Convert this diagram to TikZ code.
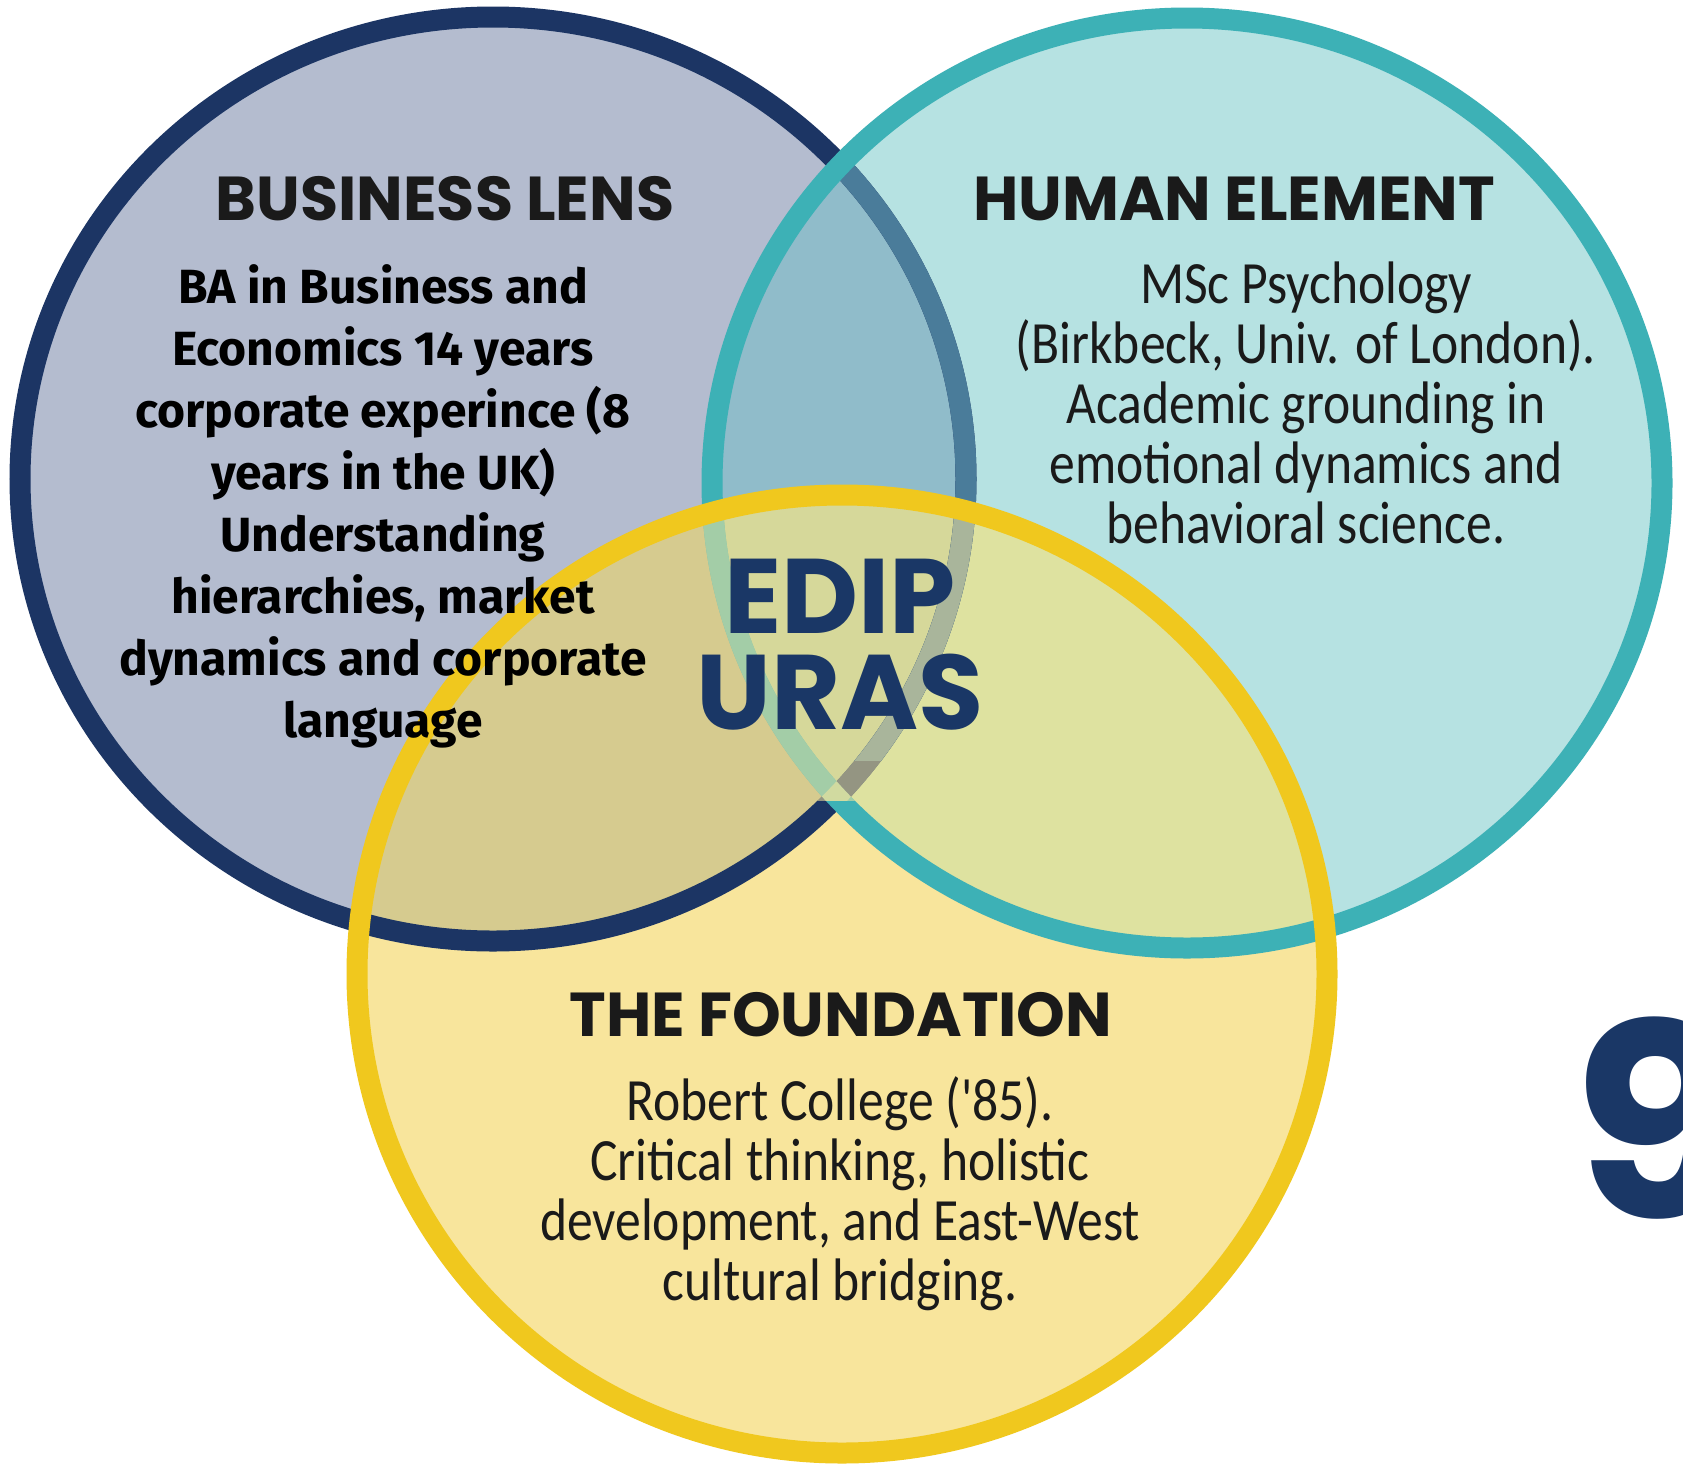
\documentclass[tikz,border=0pt]{standalone}
\usepackage{fontspec}
\setmainfont{Carlito}
\newfontfamily\headfont{Poppins}
\newfontfamily\bodyfont{Fira Sans}
\newfontfamily\softfont{Carlito}[FakeStretch=0.86]
\definecolor{bfill}{HTML}{B4BCCF}
\definecolor{bline}{HTML}{1C3564}
\definecolor{bmuted}{HTML}{4A7C9A}
\definecolor{tfill}{HTML}{B6E2E2}
\definecolor{tline}{HTML}{3DB1B6}
\definecolor{yfill}{HTML}{F8E59C}
\definecolor{yline}{HTML}{F0C81E}
\definecolor{btfill}{HTML}{90BCCA}
\definecolor{byfill}{HTML}{D6CB8F}
\definecolor{tyfill}{HTML}{DEE2A0}
\definecolor{btyfill}{HTML}{D6D89A}
\definecolor{ink}{HTML}{1A1A1A}
\definecolor{navy}{HTML}{1A3766}
\tikzset{
  ring/.style={line width=21pt},
  heading/.style={font=\headfont\bfseries\fontsize{62}{70}\selectfont, text=ink, inner sep=0pt},
  bizbody/.style={font=\bodyfont\bfseries\fontsize{48}{62}\selectfont, text=black, align=center, inner sep=0pt},
  softbody/.style={font=\softfont\fontsize{60}{60}\selectfont, text=ink, align=center, inner sep=0pt},
  brand/.style={font=\headfont\bfseries\fontsize{106}{96}\selectfont, text=navy, align=center, inner sep=0pt},
}
\def\bizshape{(493,479) ellipse [x radius=473pt, y radius=462pt]}
\def\humshape{(1187,483) ellipse [x radius=475pt, y radius=465pt]}
\def\fndshape{(842,974) ellipse [x radius=485pt, y radius=479pt]}
\begin{document}
\begin{tikzpicture}[x=1pt,y=-1pt]
\fill[white] (0,0) rectangle (1683,1467);
\useasboundingbox (0,0) rectangle (1683,1467);
% region fills
\fill[bfill] \bizshape;
\fill[tfill] \humshape;
\fill[yfill] \fndshape;
\begin{scope}
  \clip \bizshape;
  \fill[btfill] \humshape;
  \fill[byfill] \fndshape;
\end{scope}
\begin{scope}
  \clip \humshape;
  \fill[tyfill] \fndshape;
\end{scope}
\begin{scope}
  \clip \bizshape;
  \clip \humshape;
  \fill[btyfill] \fndshape;
\end{scope}
% rings
\draw[ring, bline] \bizshape;
\begin{scope}
  \clip \humshape;
  \clip (0,0) rectangle (1683,760);
  \draw[ring, bmuted] \bizshape;
\end{scope}
\draw[ring, tline] \humshape;
\begin{scope}
  \clip \fndshape;
  \clip (0,0) rectangle (1683,800);
  \draw[ring, yfill, opacity=0.55] \bizshape;
  \draw[ring, yfill, opacity=0.55] \humshape;
\end{scope}
\draw[ring, yline] \fndshape;
% texts
\node[heading] (bizhead) at (445,199) {BUSINESS LENS};
\node[heading] (humhead) at (1234,199) {HUMAN ELEMENT};
\node[heading] (fndhead) at (841,1015) {THE FOUNDATION};
\node[bizbody, anchor=north] (bizbody) at (383,264) {BA in Business and\\Economics 14 years\\corporate experince (8\\years in the UK)\\Understanding\\hierarchies, market\\dynamics and corporate\\language};
\node[softbody, anchor=north] (humbody) at (1306,262) {MSc Psychology\\(Birkbeck, Univ. of London).\\Academic grounding in\\emotional dynamics and\\behavioral science.};
\node[softbody, anchor=north] (fndbody) at (840,1076) {Robert College ('85).\\Critical thinking, holistic\\development, and East-West\\cultural bridging.};
\node[brand] (brand) at (840,645) {EDIP\\URAS};
\node[font=\headfont\bfseries\fontsize{270}{270}\selectfont, text=navy, anchor=base west, inner sep=0pt] (nine) at (1572,1218) {9};
\end{tikzpicture}
\end{document}
